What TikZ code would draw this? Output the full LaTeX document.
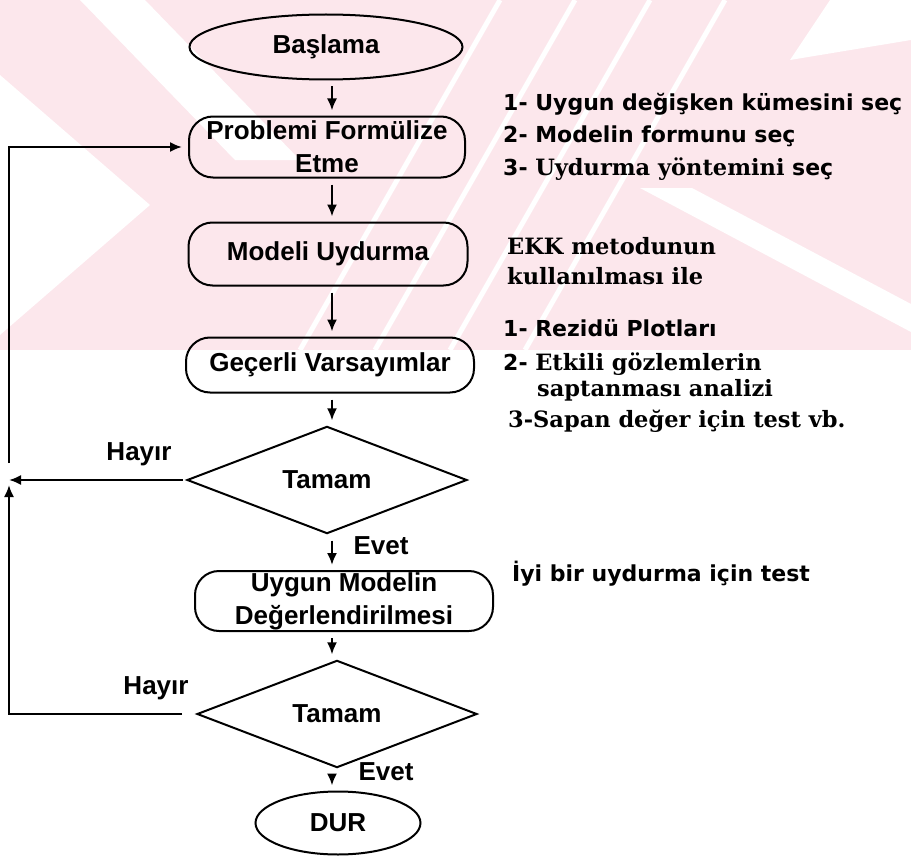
\documentclass[tikz,border=0pt]{standalone}
\usepackage{fontspec}
\setmainfont{Liberation Sans}
\newfontfamily\notesans{DejaVu Sans}
\newfontfamily\noteserif{DejaVu Serif}
\usetikzlibrary{shapes.geometric,arrows.meta}
\definecolor{wmpink}{RGB}{252,231,236}

\tikzset{
  flowtext/.style={font=\fontsize{26}{33}\selectfont\bfseries},
  terminal/.style={ellipse, draw, line width=2pt, inner sep=0pt, flowtext},
  process/.style={rectangle, rounded corners=24pt, draw, line width=2pt, inner sep=0pt, align=center, flowtext},
  decision/.style={diamond, draw, line width=2pt, inner sep=0pt, minimum width=280pt, minimum height=80pt, flowtext},
  flowarrow/.style={-{Latex[length=12pt,width=10pt]}, line width=2pt},
  answer/.style={inner sep=0pt, flowtext},
  sidenote/.style={anchor=mid west, inner sep=0pt, font=\fontsize{22}{26}\selectfont\notesans\bfseries},
  serifnote/.style={sidenote, font=\fontsize{22.5}{26}\selectfont\noteserif\bfseries},
}
\newcommand{\serifpart}[1]{{\fontsize{22.5}{26}\selectfont\noteserif\bfseries #1}}

\begin{document}
\begin{tikzpicture}[x=1pt,y=-1pt]
  \useasboundingbox (0,0) rectangle (911,859);

  % watermark in the upper part
  \fill[wmpink] (0,0) rectangle (911,350);
  \fill[white] (80,0) -- (145,0) -- (300,160) -- (235,160) -- cycle;
  \fill[white] (0,75) -- (150,205) -- (0,335) -- cycle;
  \fill[white] (830,0) -- (911,0) -- (911,40) -- (790,60) -- cycle;
  \fill[white] (640,188) -- (692,188) -- (911,304) -- (911,332) -- cycle;
  \foreach \s in {0,...,3}
    \draw[white, line width=5pt] ({300+75*\s},350) -- ({500+75*\s},0);

  % flow nodes
  \node[terminal, minimum width=273pt, minimum height=65pt] (start) at (326,47) {Başlama};
  \node[process, minimum width=276pt, minimum height=61pt] (formul) at (327,147) {Problemi Formülize\\Etme};
  \node[process, minimum width=279pt, minimum height=63pt] (fit) at (328,254) {Modeli Uydurma};
  \node[process, minimum width=288pt, minimum height=55pt] (assume) at (330,365) {Geçerli Varsayımlar};
  \node[decision] (ok1) at (327,480) {Tamam};
  \node[process, minimum width=298pt, minimum height=60pt] (evaluate) at (344,601) {Uygun Modelin\\Değerlendirilmesi};
  \node[decision] (ok2) at (337,714) {Tamam};
  \node[terminal, minimum width=165pt, minimum height=63pt] (stop) at (338,823) {DUR};

  % answers
  \node[answer] (no1) at (139,454) {Hayır};
  \node[answer] (yes1) at (381,546) {Evet};
  \node[answer] (no2) at (156,688) {Hayır};
  \node[answer] (yes2) at (386,772) {Evet};

  % main arrows
  \coordinate (axis) at (332,0);
  \foreach \a/\b in {start/formul, formul/fit, fit/assume, assume/ok1, ok1/evaluate, evaluate/ok2, ok2/stop}
    \draw[flowarrow, shorten <=6pt, shorten >=5pt] (axis |- \a.south) -- (axis |- \b.north);

  % feedback loop
  \coordinate (backx) at (9,0);
  \coordinate (join) at (ok1.west -| backx);
  \draw[flowarrow, shorten <=3pt] (ok1.west) -- (join);
  \draw[flowarrow, shorten <=14pt] (ok2.west) -- (ok2.west -| backx) -- ([yshift=-5pt]join);
  \draw[flowarrow, shorten >=6pt] ([yshift=17pt]join) |- (formul.west);

  % side notes
  \node[sidenote] (set1) at (503,108) {1- Uygun değişken kümesini seç};
  \node[sidenote] (set2) at (503,140) {2- Modelin formunu seç};
  \node[sidenote] (set3) at (503,173) {3- \serifpart{Uydurma yöntemini} seç};
  \node[serifnote] (ols1) at (507,252) {EKK metodunun};
  \node[serifnote] (ols2) at (507,282) {kullanılması ile};
  \node[sidenote] (diag1) at (503,334) {1- Rezidü Plotları};
  \node[sidenote] (diag2) at (503,368) {2- \serifpart{Etkili gözlemlerin}};
  \node[serifnote] (diag2b) at (537,394) {saptanması analizi};
  \node[serifnote] (diag3) at (508,425) {3-Sapan değer için test vb.};
  \node[sidenote] (test) at (512,579) {İyi bir uydurma için test};
\end{tikzpicture}
\end{document}
